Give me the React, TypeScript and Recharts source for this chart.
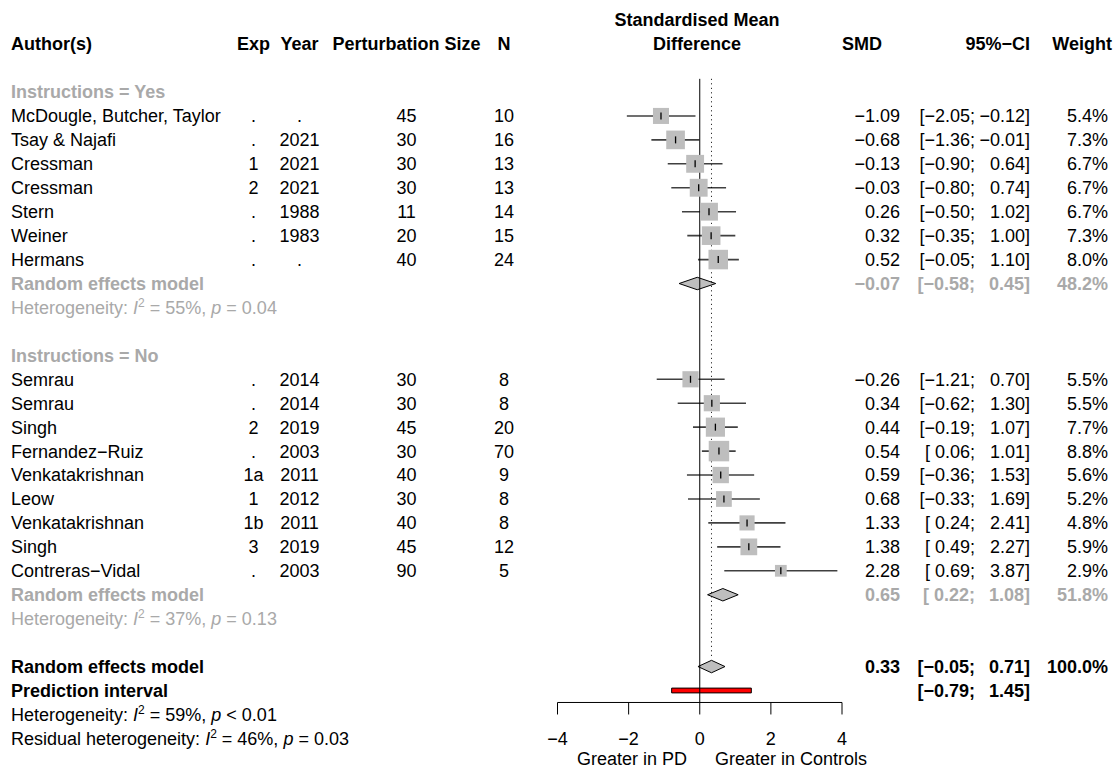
import React from "react";
import {
  ComposedChart,
  XAxis,
  YAxis,
  Scatter,
  ErrorBar,
  Area,
  ReferenceLine,
  ReferenceArea,
} from "recharts";

// ---- study data ----
const authors = [
  "McDougle, Butcher, Taylor", "Tsay & Najafi", "Cressman", "Cressman", "Stern", "Weiner", "Hermans",
  "Semrau", "Semrau", "Singh", "Fernandez\u2212Ruiz", "Venkatakrishnan", "Leow", "Venkatakrishnan", "Singh", "Contreras\u2212Vidal",
];
const experiments = [".", ".", "1", "2", ".", ".", ".", ".", ".", "2", ".", "1a", "1", "1b", "3", "."];
const years = [".", "2021", "2021", "2021", "1988", "1983", ".", "2014", "2014", "2019", "2003", "2011", "2012", "2011", "2019", "2003"];
const perturbation = [45, 30, 30, 30, 11, 20, 40, 30, 30, 45, 30, 40, 30, 40, 45, 90];
const sampleN = [10, 16, 13, 13, 14, 15, 24, 8, 8, 20, 70, 9, 8, 8, 12, 5];
const smd = [-1.09, -0.68, -0.13, -0.03, 0.26, 0.32, 0.52, -0.26, 0.34, 0.44, 0.54, 0.59, 0.68, 1.33, 1.38, 2.28];
const ciLow = [-2.05, -1.36, -0.9, -0.8, -0.5, -0.35, -0.05, -1.21, -0.62, -0.19, 0.06, -0.36, -0.33, 0.24, 0.49, 0.69];
const ciHigh = [-0.12, -0.01, 0.64, 0.74, 1.02, 1.0, 1.1, 0.7, 1.3, 1.07, 1.01, 1.53, 1.69, 2.41, 2.27, 3.87];
const weights = [5.4, 7.3, 6.7, 6.7, 6.7, 7.3, 8.0, 5.5, 5.5, 7.7, 8.8, 5.6, 5.2, 4.8, 5.9, 2.9];
const groupSizes = [7, 9];

// ---- subgroup / overall ----
const groupLabels = ["Instructions = Yes", "Instructions = No"];
const pooledSmd = [-0.07, 0.65, 0.33];
const pooledLow = [-0.58, 0.22, -0.05];
const pooledHigh = [0.45, 1.08, 0.71];
const pooledWeight = [48.2, 51.8, 100.0];
const predInterval = [-0.79, 1.45];
const hetLabels = ["Heterogeneity: ", "Heterogeneity: ", "Heterogeneity: ", "Residual heterogeneity: "];
const hetI2 = [55, 37, 59, 46];
const hetP = ["= 0.04", "= 0.13", "< 0.01", "= 0.03"];
const xTicks = [-4, -2, 0, 2, 4];

// ---- layout ----
const W = 1114;
const H = 776;
const ROW0 = 92;
const ROWH = 23.94;
const rowY = (r: number) => ROW0 + ROWH * r;
const base = (r: number) => rowY(r) + 6.4;
const Y_MIN = -0.55;
const Y_MAX = 25.5;
const PLOT_L = 557.5;
const PLOT_R = 842;
const X_AXIS_H = 40;
const FONT = "'Liberation Sans', Arial, Helvetica, sans-serif";
const FS = 18;
const GRAY = "#a9a9a9";
const SQ_K = 6.9;
const MINUS = "\u2212";

const num = (v: number) => (v < 0 ? MINUS : "") + Math.abs(v).toFixed(2);
const lowPart = (v: number) => "[" + (v < 0 ? MINUS : "\u00a0") + Math.abs(v).toFixed(2) + ";";
const highPart = (v: number) => (v < 0 ? MINUS : "") + Math.abs(v).toFixed(2) + "]";

// assign rows
const studyRows: number[] = [];
const groupHeaderRows: number[] = [];
const pooledRows: number[] = [];
const hetRows: number[] = [];
{
  let r = 0;
  let k = 0;
  groupSizes.forEach((n) => {
    groupHeaderRows.push(r++);
    for (let j = 0; j < n; j++) studyRows[k++] = r++;
    pooledRows.push(r++);
    hetRows.push(r++);
    r++;
  });
  pooledRows.push(r);
  hetRows.push(r + 2, r + 3);
}
const predRow = pooledRows[2] + 1;

const studyPoints = smd.map((v, i) => ({
  x: v,
  y: studyRows[i],
  w: weights[i],
  err: [v - ciLow[i], ciHigh[i] - v],
}));

const DIAMOND_H = 0.26;
const diamonds = pooledSmd.map((v, i) => [
  { x: pooledLow[i], band: [pooledRows[i], pooledRows[i]] },
  { x: v, band: [pooledRows[i] - DIAMOND_H, pooledRows[i] + DIAMOND_H] },
  { x: pooledHigh[i], band: [pooledRows[i], pooledRows[i]] },
]);

const SMD_R = 900;
const CI_LO_R = 975;
const CI_R = 1030;
const W_R = 1108;
const EXP_C = 253.5;
const YEAR_C = 299.5;
const PERT_C = 406.5;
const N_C = 504;

const Square = (p: any) => {
  const s = SQ_K * Math.sqrt(p.payload.w);
  return <rect x={p.cx - s / 2} y={p.cy - s / 2} width={s} height={s} fill="#bebebe" />;
};
const CenterTick = (p: any) => (
  <line x1={p.cx} x2={p.cx} y1={p.cy - 3.5} y2={p.cy + 3.5} stroke="#000" strokeWidth={1.3} />
);
const AxisTick = (p: any) => (
  <text x={p.x} y={p.y} dy={28.2} textAnchor="middle" fontSize={FS} fontFamily={FONT} fill="#000">
    {(p.payload.value < 0 ? MINUS : "") + Math.abs(p.payload.value)}
  </text>
);

const Het = ({ r, i, fill }: { r: number; i: number; fill: string }) => (
  <text x={11} y={base(r)} fontSize={FS} fill={fill} style={{ whiteSpace: "pre" }}>
    {hetLabels[i]}
    <tspan fontStyle="italic">I</tspan>
    <tspan fontSize={12} dy={-7}>2</tspan>
    <tspan dy={7}>{` = ${hetI2[i]}%, `}</tspan>
    <tspan fontStyle="italic">p</tspan>
    {` ${hetP[i]}`}
  </text>
);

const RightCols = ({ r, v, lo, hi, w, fill, bold }: any) => (
  <g fill={fill} fontWeight={bold ? "bold" : "normal"}>
    {v !== null && (
      <text x={SMD_R} y={base(r)} textAnchor="end">{num(v)}</text>
    )}
    <text x={CI_LO_R} y={base(r)} textAnchor="end" style={{ whiteSpace: "pre" }}>{lowPart(lo)}</text>
    <text x={CI_R} y={base(r)} textAnchor="end">{highPart(hi)}</text>
    {w !== null && (
      <text x={W_R} y={base(r)} textAnchor="end">{w.toFixed(1) + "%"}</text>
    )}
  </g>
);

export default function App() {
  return (
    <div style={{ position: "relative", width: W, height: H, background: "#fff" }}>
      <style>{"body{margin:0}"}</style>
      <ComposedChart
        width={W}
        height={H}
        margin={{ top: rowY(Y_MIN), left: PLOT_L, right: W - PLOT_R, bottom: H - rowY(Y_MAX) - X_AXIS_H }}
      >
        <XAxis
          type="number"
          dataKey="x"
          domain={[-4, 4]}
          ticks={xTicks}
          height={X_AXIS_H}
          tickSize={12}
          stroke="#000"
          tick={<AxisTick />}
          axisLine={{ stroke: "#000" }}
          tickLine={{ stroke: "#000" }}
        />
        <YAxis type="number" dataKey="y" domain={[Y_MIN, Y_MAX]} reversed hide width={0} />
        {diamonds.map((d, i) => (
          <Area
            key={"d" + i}
            data={d}
            dataKey="band"
            type="linear"
            fill="#bebebe"
            fillOpacity={1}
            stroke="#000"
            strokeWidth={1}
            dot={false}
            activeDot={false}
            isAnimationActive={false}
          />
        ))}
        <ReferenceArea
          x1={predInterval[0]}
          x2={predInterval[1]}
          y1={predRow - 0.1}
          y2={predRow + 0.1}
          fill="#ff0000"
          fillOpacity={1}
          stroke="#000"
          strokeWidth={1}
        />
        <Scatter data={studyPoints} shape={<Square />} isAnimationActive={false} />
        <Scatter data={studyPoints} shape={<CenterTick />} isAnimationActive={false}>
          <ErrorBar dataKey="err" direction="x" width={0} stroke="#404040" strokeWidth={1.6} />
        </Scatter>
        <ReferenceLine x={0} stroke="#000" strokeWidth={1} />
        <ReferenceLine
          segment={[
            { x: pooledSmd[2], y: Y_MIN },
            { x: pooledSmd[2], y: pooledRows[2] - 0.4 },
          ]}
          stroke="#000"
          strokeWidth={1}
          strokeDasharray="1 3.5"
        />
      </ComposedChart>

      <svg
        width={W}
        height={H}
        style={{ position: "absolute", left: 0, top: 0, pointerEvents: "none" }}
        fontFamily={FONT}
        fontSize={FS}
      >
        {/* headers */}
        <g fontWeight="bold" fill="#000">
          <text x={11} y={49.5}>Author(s)</text>
          <text x={EXP_C} y={49.5} textAnchor="middle">Exp</text>
          <text x={YEAR_C} y={49.5} textAnchor="middle">Year</text>
          <text x={PERT_C} y={49.5} textAnchor="middle">Perturbation Size</text>
          <text x={N_C} y={49.5} textAnchor="middle">N</text>
          <text x={697} y={26} textAnchor="middle">Standardised Mean</text>
          <text x={697} y={49.5} textAnchor="middle">Difference</text>
          <text x={882} y={49.5} textAnchor="end">SMD</text>
          <text x={CI_R} y={49.5} textAnchor="end">{"95%" + MINUS + "CI"}</text>
          <text x={W_R + 4} y={49.5} textAnchor="end">Weight</text>
        </g>

        {/* subgroup headers */}
        {groupLabels.map((g, i) => (
          <text key={g} x={11} y={base(groupHeaderRows[i])} fontWeight="bold" fill={GRAY}>{g}</text>
        ))}

        {/* studies */}
        {authors.map((a, i) => {
          const r = studyRows[i];
          return (
            <g key={"s" + i} fill="#000">
              <text x={11} y={base(r)}>{a}</text>
              <text x={EXP_C} y={base(r)} textAnchor="middle">{experiments[i]}</text>
              <text x={YEAR_C} y={base(r)} textAnchor="middle">{years[i]}</text>
              <text x={PERT_C} y={base(r)} textAnchor="middle">{perturbation[i]}</text>
              <text x={N_C} y={base(r)} textAnchor="middle">{sampleN[i]}</text>
              <RightCols r={r} v={smd[i]} lo={ciLow[i]} hi={ciHigh[i]} w={weights[i]} fill="#000" />
            </g>
          );
        })}

        {/* pooled rows */}
        {pooledSmd.map((v, i) => {
          const fill = i < 2 ? GRAY : "#000";
          return (
            <g key={"p" + i}>
              <text x={11} y={base(pooledRows[i])} fontWeight="bold" fill={fill}>Random effects model</text>
              <RightCols r={pooledRows[i]} v={v} lo={pooledLow[i]} hi={pooledHigh[i]} w={pooledWeight[i]} fill={fill} bold />
            </g>
          );
        })}
        <text x={11} y={base(predRow)} fontWeight="bold" fill="#000">Prediction interval</text>
        <RightCols r={predRow} v={null} lo={predInterval[0]} hi={predInterval[1]} w={null} fill="#000" bold />

        {/* heterogeneity */}
        {hetRows.map((r, i) => (
          <Het key={"h" + i} r={r} i={i} fill={i < 2 ? GRAY : "#000"} />
        ))}

        {/* axis side labels */}
        <text x={687} y={765.4} textAnchor="end" fill="#000">Greater in PD</text>
        <text x={715} y={765.4} fill="#000">Greater in Controls</text>
      </svg>
    </div>
  );
}
